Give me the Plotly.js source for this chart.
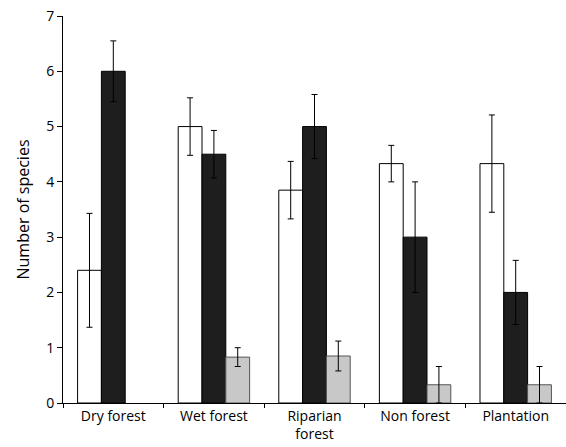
<!DOCTYPE html>
<html><head><meta charset="utf-8">
<script src="https://cdn.plot.ly/plotly-3.0.1.min.js"></script>
<style>html,body{margin:0;padding:0;background:#fff}</style>
</head><body>
<div id="plot" style="width:566px;height:447px"></div>
<script>
const categories = ["Dry forest", "Wet forest", "Riparian<br>forest", "Non forest", "Plantation"];
const whiteVals = [2.4, 5.0, 3.85, 4.33, 4.33];
const whiteErr  = [1.03, 0.52, 0.52, 0.33, 0.88];
const blackVals = [6.0, 4.5, 5.0, 3.0, 2.0];
const blackErr  = [0.55, 0.43, 0.58, 1.0, 0.58];
const greyVals  = [null, 0.83, 0.85, 0.33, 0.33];
const greyErr   = [0, 0.17, 0.27, 0.33, 0.33];

function series(vals, err, color, lineColor) {
  return {
    type: "bar", x: categories, y: vals,
    marker: { color, line: { color: lineColor, width: 1 } },
    error_y: { type: "data", array: err, visible: true, color: "#000", thickness: 1, width: 3 },
    showlegend: false, hoverinfo: "y",
  };
}

const traces = [
  series(whiteVals, whiteErr, "#ffffff", "#000"),
  series(blackVals, blackErr, "#1e1e1e", "#000"),
  series(greyVals, greyErr, "#c8c8c8", "#555"),
];

const layout = {
  width: 566, height: 447,
  margin: { l: 63, r: 0, t: 16, b: 44 },
  barmode: "group", bargap: 0.29, bargroupgap: 0,
  paper_bgcolor: "#fff", plot_bgcolor: "#fff",
  font: { family: "Open Sans, Liberation Sans, sans-serif", size: 14, color: "#000" },
  xaxis: {
    showline: true, linecolor: "#000", linewidth: 1, showgrid: false,
    ticks: "outside", tickson: "boundaries", ticklen: 4, tickcolor: "#000",
    tickfont: { size: 14 }, range: [-0.5, 4.5],
  },
  yaxis: {
    title: { text: "Number of species", font: { size: 16 }, standoff: 12 },
    range: [0, 7], dtick: 1, showline: true, linecolor: "#000", linewidth: 1,
    ticks: "outside", ticklen: 5, tickcolor: "#000", showgrid: false, zeroline: false,
    tickfont: { size: 14 },
  },
};

Plotly.newPlot("plot", traces, layout, { displayModeBar: false, staticPlot: true });
</script>
</body></html>
